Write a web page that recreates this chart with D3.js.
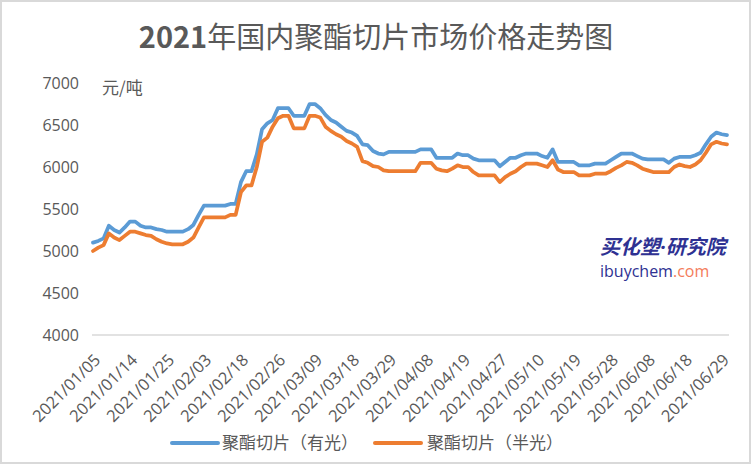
<!DOCTYPE html>
<html>
<head>
<meta charset="utf-8">
<script src="https://cdn.jsdelivr.net/npm/d3@7"></script>
<style>
  html, body { margin: 0; padding: 0; background: #fff; }
  svg { display: block; }
</style>
</head>
<body>
<svg id="chart" width="754" height="466"></svg>
<script>
const dates = [
  "2021/01/05","2021/01/06","2021/01/07","2021/01/08","2021/01/11","2021/01/12","2021/01/13",
  "2021/01/14","2021/01/15","2021/01/18","2021/01/19","2021/01/20","2021/01/21","2021/01/22",
  "2021/01/25","2021/01/26","2021/01/27","2021/01/28","2021/01/29","2021/02/01","2021/02/02",
  "2021/02/03","2021/02/04","2021/02/05","2021/02/07","2021/02/08","2021/02/09","2021/02/10",
  "2021/02/18","2021/02/19","2021/02/20","2021/02/22","2021/02/23","2021/02/24","2021/02/25",
  "2021/02/26","2021/03/01","2021/03/02","2021/03/03","2021/03/04","2021/03/05","2021/03/08",
  "2021/03/09","2021/03/10","2021/03/11","2021/03/12","2021/03/15","2021/03/16","2021/03/17",
  "2021/03/18","2021/03/19","2021/03/22","2021/03/23","2021/03/24","2021/03/25","2021/03/26",
  "2021/03/29","2021/03/30","2021/03/31","2021/04/01","2021/04/02","2021/04/06","2021/04/07",
  "2021/04/08","2021/04/09","2021/04/12","2021/04/13","2021/04/14","2021/04/15","2021/04/16",
  "2021/04/19","2021/04/20","2021/04/21","2021/04/22","2021/04/23","2021/04/25","2021/04/26",
  "2021/04/27","2021/04/28","2021/04/29","2021/04/30","2021/05/06","2021/05/07","2021/05/08",
  "2021/05/10","2021/05/11","2021/05/12","2021/05/13","2021/05/14","2021/05/17","2021/05/18",
  "2021/05/19","2021/05/20","2021/05/21","2021/05/24","2021/05/25","2021/05/26","2021/05/27",
  "2021/05/28","2021/05/31","2021/06/01","2021/06/02","2021/06/03","2021/06/04","2021/06/07",
  "2021/06/08","2021/06/09","2021/06/10","2021/06/11","2021/06/15","2021/06/16","2021/06/17",
  "2021/06/18","2021/06/21","2021/06/22","2021/06/23","2021/06/24","2021/06/25","2021/06/28",
  "2021/06/29","2021/06/30"
];

// 聚酯切片（有光）
const brightChip = [
  5100,5120,5150,5300,5250,5220,5280,5350,5350,5300,
  5280,5280,5260,5250,5230,5230,5230,5230,5260,5310,
  5430,5540,5540,5540,5540,5540,5560,5560,5820,5950,
  5950,6150,6450,6520,6560,6700,6700,6700,6610,6610,
  6610,6750,6750,6700,6620,6560,6530,6480,6430,6410,
  6370,6270,6260,6190,6160,6150,6180,6180,6180,6180,
  6180,6180,6210,6210,6210,6110,6110,6110,6110,6160,
  6140,6140,6100,6080,6080,6080,6080,6010,6060,6110,
  6110,6140,6160,6160,6160,6130,6110,6210,6060,6060,
  6060,6060,6020,6020,6020,6040,6040,6040,6080,6120,
  6160,6160,6160,6130,6100,6090,6090,6090,6090,6050,
  6100,6120,6120,6120,6140,6170,6270,6360,6410,6390,
  6380
];

// 聚酯切片（半光）
const semiDullChip = [
  5000,5040,5070,5210,5160,5130,5180,5230,5230,5210,
  5190,5180,5140,5110,5090,5080,5080,5080,5110,5160,
  5280,5400,5400,5400,5400,5400,5430,5430,5700,5780,
  5780,6000,6300,6350,6480,6580,6610,6610,6460,6460,
  6460,6610,6610,6590,6480,6430,6390,6360,6310,6280,
  6240,6070,6050,6010,6000,5960,5950,5950,5950,5950,
  5950,5950,6050,6050,6050,5980,5960,5950,5980,6020,
  6000,6000,5940,5900,5900,5900,5900,5820,5880,5920,
  5950,6000,6040,6040,6040,6020,6000,6080,5970,5940,
  5940,5940,5900,5900,5900,5920,5920,5920,5950,5990,
  6020,6060,6050,6020,5980,5960,5940,5940,5940,5940,
  6000,6030,6010,6000,6030,6080,6170,6270,6300,6280,
  6270
];

const yTicks = [4000, 4500, 5000, 5500, 6000, 6500, 7000];
const xTickEvery = 7;
const seriesNames = ["聚酯切片（有光）", "聚酯切片（半光）"];
const seriesColors = ["#5B9BD5", "#ED7D31"];
const titleYear = "2021";
const titleRest = "年国内聚酯切片市场价格走势图";
const unitLabel = "元/吨";

const svg = d3.select("#chart");
const textColor = "#595959";
const numFont = "'Open Sans', 'Liberation Sans', sans-serif";
const cjkFont = "'Noto Sans CJK SC', 'Noto Sans', sans-serif";

// outer border
svg.append("rect")
  .attr("x", 1).attr("y", 1).attr("width", 749).attr("height", 462)
  .attr("fill", "#fff").attr("stroke", "#d9d9d9").attr("stroke-width", 2);

const x = d3.scalePoint().domain(dates).range([93, 727]);
const y = d3.scaleLinear().domain([4000, 7000]).range([335, 83]);

// title
const title = svg.append("text")
  .attr("x", 376).attr("y", 48)
  .attr("text-anchor", "middle")
  .attr("fill", textColor)
  .style("font-size", "29px")
  .style("font-family", cjkFont);
title.append("tspan").attr("font-weight", "bold").text(titleYear);
title.append("tspan").attr("font-weight", "normal").text(titleRest);

// unit
svg.append("text")
  .attr("x", 102).attr("y", 94)
  .attr("fill", textColor)
  .style("font-size", "17px")
  .style("font-family", cjkFont)
  .text(unitLabel);

// y axis
const yAxis = svg.append("g")
  .attr("transform", "translate(92,0)")
  .call(d3.axisLeft(y).tickValues(yTicks).tickSize(0).tickPadding(13).tickFormat(d3.format("d")));
yAxis.select(".domain").remove();
yAxis.selectAll("text")
  .attr("fill", textColor)
  .style("font-size", "16px")
  .style("font-family", numFont);

// x axis
const xAxis = svg.append("g")
  .attr("transform", `translate(0,${y(4000)})`)
  .call(d3.axisBottom(x)
    .tickValues(dates.filter((d, i) => i % xTickEvery === 0))
    .tickSize(0));
xAxis.select(".domain").remove();
xAxis.selectAll("text")
  .attr("fill", textColor)
  .attr("text-anchor", "end")
  .attr("dy", null)
  .attr("y", null)
  .attr("transform", "translate(8,26) rotate(-45)")
  .style("font-size", "16.5px")
  .style("font-family", numFont);

// baseline axis line
svg.append("line")
  .attr("x1", x.range()[0] - 1).attr("x2", x.range()[1] + 2)
  .attr("y1", y(4000)).attr("y2", y(4000))
  .attr("stroke", "#d9d9d9").attr("stroke-width", 1.5);

// watermark
const wm = svg.append("g");
const wm1 = wm.append("text")
  .attr("x", 600).attr("y", 254)
  .attr("fill", "#2E3192")
  .style("font-size", "20px")
  .style("font-weight", "bold")
  .style("font-style", "italic")
  .style("font-family", cjkFont);
wm1.append("tspan").text("买化塑");
wm1.append("tspan").style("font-family", numFont).text("·");
wm1.append("tspan").text("研究院");
const wm2 = wm.append("text")
  .attr("x", 600).attr("y", 277)
  .style("font-size", "16px")
  .style("font-family", numFont);
wm2.append("tspan").attr("fill", "#2E3192").text("ibuychem");
wm2.append("tspan").attr("fill", "#F47C5A").text(".com");

// lines
const line = d3.line()
  .x((d, i) => x(dates[i]))
  .y(d => y(d));

[brightChip, semiDullChip].forEach((s, k) => {
  svg.append("path")
    .datum(s)
    .attr("d", line)
    .attr("fill", "none")
    .attr("stroke", seriesColors[k])
    .attr("stroke-width", 3.75)
    .attr("stroke-linejoin", "round")
    .attr("stroke-linecap", "round");
});

// legend
const legendItems = [
  { lx: 172, tx: 222 },
  { lx: 375, tx: 427 }
];
legendItems.forEach((p, k) => {
  svg.append("line")
    .attr("x1", p.lx).attr("x2", p.lx + 46)
    .attr("y1", 443).attr("y2", 443)
    .attr("stroke", seriesColors[k]).attr("stroke-width", 4)
    .attr("stroke-linecap", "round");
  svg.append("text")
    .attr("x", p.tx).attr("y", 449)
    .attr("fill", textColor)
    .style("font-size", "17px")
    .style("font-family", cjkFont)
    .text(seriesNames[k]);
});
</script>
</body>
</html>
